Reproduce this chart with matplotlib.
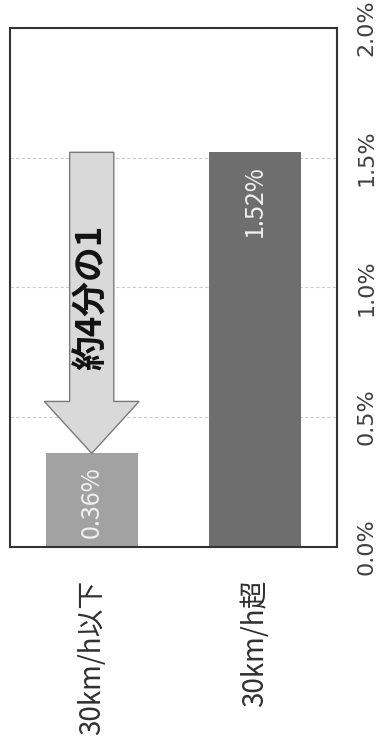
import matplotlib.pyplot as plt
from matplotlib.patches import FancyArrow

plt.rcParams['font.family'] = ['Noto Sans CJK JP', 'DejaVu Sans']

# données
categories = ["30km/h以下", "30km/h超"]
values = [0.36, 1.52]
value_labels = ["0.36%", "1.52%"]
bar_colors = ["#a2a2a2", "#6e6e6e"]
y_ticks = [0.0, 0.5, 1.0, 1.5, 2.0]
y_tick_labels = ["0.0%", "0.5%", "1.0%", "1.5%", "2.0%"]
arrow_text = "約4分の1"

fig = plt.figure(figsize=(3.85, 7.5), dpi=100)
ax = fig.add_axes([0.026, 0.271, 0.849, 0.692])

x = list(range(len(categories)))
ax.bar(x, values, width=0.563, color=bar_colors, zorder=2)

# étiquettes dans les barres
for xi, v, lab in zip(x, values, value_labels):
    ax.annotate(lab, (xi, v), xytext=(0, -9), textcoords="offset points",
                rotation=90, ha="center", va="top", fontsize=18,
                color="#f0f0f0", zorder=4)

# flèche de la grande valeur vers la petite
arr = FancyArrow(x[0], values[1], 0, values[0] - values[1], width=0.27,
                 head_width=0.58, head_length=0.2, length_includes_head=True,
                 facecolor="#d9d9d9", edgecolor="#7a7a7a", linewidth=1.0,
                 zorder=3)
ax.add_patch(arr)
ax.text(x[0], 0.96, arrow_text, rotation=90, ha="center", va="center",
        fontsize=25, fontweight="bold", color="#111111", zorder=4)

ax.set_xlim(-0.5, 1.5)
ax.set_ylim(0, 2.0)
ax.set_yticks(y_ticks)
ax.set_yticklabels(y_tick_labels, rotation=90, va="center", family="DejaVu Sans")
ax.yaxis.tick_right()
ax.tick_params(axis="y", length=0, pad=14, labelsize=16, labelcolor="#404040")
ax.set_xticks(x)
ax.set_xticklabels(categories, rotation=90, ha="center", va="top")
ax.tick_params(axis="x", length=0, pad=24, labelsize=20, labelcolor="#303030")

ax.grid(axis="y", color="#cccccc", linewidth=0.8, linestyle=(0, (3, 2)), zorder=1)
for s in ax.spines.values():
    s.set_color("#333333")
    s.set_linewidth(1.5)

fig.savefig("out.png", dpi=100)
